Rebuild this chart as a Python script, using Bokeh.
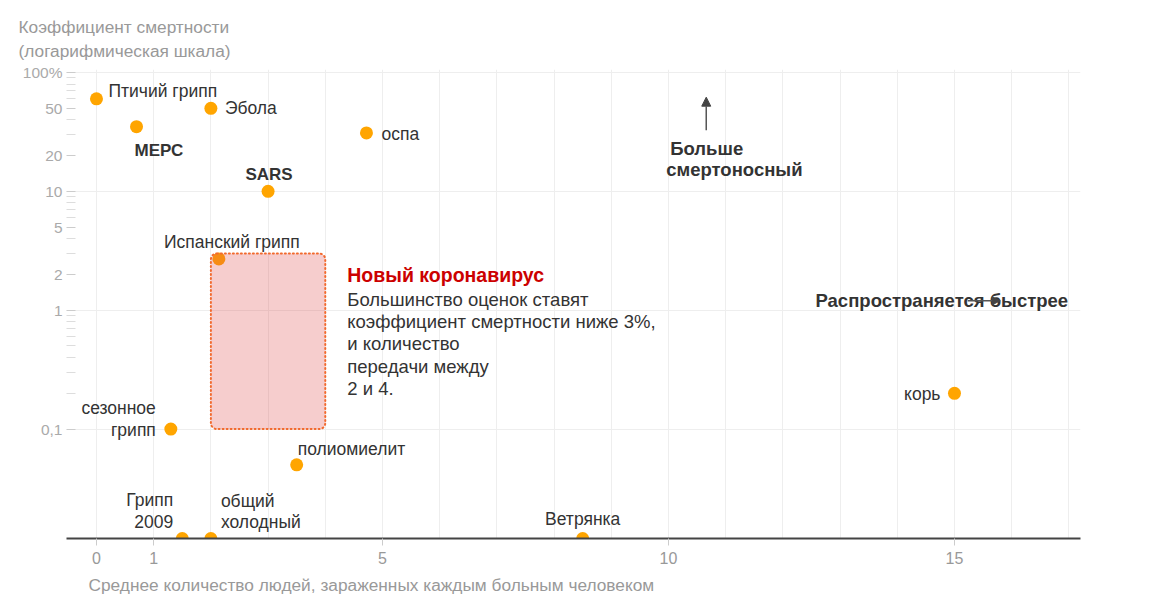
from bokeh.plotting import figure
from bokeh.models import (ColumnDataSource, FixedTicker, CustomJSTickFormatter, Label,
                          Arrow, NormalHead, Title)
from bokeh.embed import file_html
from bokeh.resources import INLINE

# ---------------- data ----------------
names = ["Птичий грипп", "МЕРС", "Эбола", "оспа", "SARS", "Испанский грипп",
         "сезонное\nгрипп", "полиомиелит", "корь", "Грипп\n2009", "общий\nхолодный", "Ветрянка"]
r0 = [0.0, 0.7, 2.0, 4.72, 3.0, 2.14, 1.3, 3.5, 15.0, 1.5, 2.0, 8.5]
AXIS_FLOOR = 0.012  # points placed on the axis (very low fatality)
fatality = [60, 35, 50, 31, 10, 2.7, 0.1, 0.05, 0.2, AXIS_FLOOR, AXIS_FLOOR, AXIS_FLOOR]

covid_r0 = [2.0, 4.0]
covid_fatality = [0.1, 3.0]

x_ticks = [0, 1, 5, 10, 15]
y_ticks = [0.1, 1, 2, 5, 10, 20, 50, 100]
y_minor = [0.2, 0.3, 0.4, 0.5, 0.6, 0.7, 0.8, 0.9, 3, 4, 6, 7, 8, 9, 30, 40, 60, 70, 80, 90]

# ---------------- styles ----------------
FONT = "Liberation Sans"
DARK = "#333333"
GRAY = "#999999"
DOT = "#ffa500"

# label style per point: (dx, dy_down, align, bold)
label_style = {
    "Птичий грипп": (12, -8, "left", False),
    "МЕРС": (-2, 24, "left", True),
    "Эбола": (14, 0, "left", False),
    "оспа": (15, 1, "left", False),
    "SARS": (1, -17, "center", True),
    "Испанский грипп": (13, -17, "center", False),
    "сезонное\nгрипп": (-15, -21, "right", False),
    "полиомиелит": (1, -16, "left", False),
    "корь": (-14, 1, "right", False),
    "Грипп\n2009": (-9, -39, "right", False),
    "общий\nхолодный": (10, -38, "left", False),
    "Ветрянка": (0, -20, "center", False),
}
LINE_H = 21.5

p = figure(width=1140, height=604, output_backend="svg", toolbar_location=None,
           y_axis_type="log", x_range=(-0.524, 17.203), y_range=(AXIS_FLOOR, 106),
           min_border_left=66, min_border_right=60, min_border_top=69, min_border_bottom=66)
p.outline_line_color = None
p.background_fill_color = "white"

# axes
xa = p.xaxis[0]
xa.ticker = FixedTicker(ticks=x_ticks, minor_ticks=[])
xa.axis_line_color = "#444444"
xa.axis_line_width = 2
xa.major_tick_line_color = "#cccccc"
xa.major_tick_in = 0
xa.major_tick_out = 7
xa.minor_tick_line_color = None
xa.major_label_text_color = GRAY
xa.major_label_text_font = FONT
xa.major_label_text_font_size = "16px"
xa.major_label_standoff = 6

ya = p.yaxis[0]
ya.ticker = FixedTicker(ticks=y_ticks, minor_ticks=y_minor)
ya.formatter = CustomJSTickFormatter(code="""
if (tick >= 99) return '100%';
if (Math.abs(tick - 0.1) < 1e-9) return '0,1';
return String(tick);
""")
ya.axis_line_color = None
ya.major_tick_line_color = "#cccccc"
ya.minor_tick_line_color = "#dddddd"
ya.major_tick_in = 9
ya.major_tick_out = 0
ya.minor_tick_in = 9
ya.minor_tick_out = 0
ya.major_label_text_color = "#aaaaaa"
ya.major_label_text_font = FONT
ya.major_label_text_font_size = "15.5px"
ya.major_label_standoff = 4

p.xgrid.ticker = FixedTicker(ticks=list(range(0, 18)))
p.xgrid.grid_line_color = "#eeeeee"
p.ygrid.ticker = FixedTicker(ticks=[0.1, 1, 10, 100])
p.ygrid.grid_line_color = "#eeeeee"

# points
src = ColumnDataSource(dict(x=r0, y=fatality, name=names))
p.scatter("x", "y", source=src, size=13, color=DOT, line_color=None)

# coronavirus box (drawn over the dots)
p.quad(left=[covid_r0[0]], right=[covid_r0[1]], bottom=[covid_fatality[0]], top=[covid_fatality[1]],
       fill_color="#e04a4a", fill_alpha=0.28, line_color="#f26a2e", line_width=2,
       line_dash="1 3", line_cap="round", border_radius=6)

# point labels
for name, x, y in zip(names, r0, fatality):
    dx, dy, align, bold = label_style[name]
    lines = name.split("\n")
    for i, line in enumerate(lines):
        p.add_layout(Label(x=x, y=y, x_offset=dx, y_offset=-(dy + i * LINE_H), text=line,
                           text_font=FONT, text_font_size="17px" if bold else "17.5px",
                           text_color=DARK,
                           text_font_style="bold" if bold else "normal",
                           text_align=align, text_baseline="middle"))

# coronavirus annotation
p.add_layout(Label(x=covid_r0[1], y=covid_fatality[1], x_offset=22, y_offset=-21,
                   text="Новый коронавирус", text_font=FONT, text_font_size="19.5px",
                   text_font_style="bold", text_color="#cc0000", text_baseline="middle"))
body = ["Большинство оценок ставят", "коэффициент смертности ниже 3%,",
        "и количество", "передачи между", "2 и 4."]
for i, line in enumerate(body):
    p.add_layout(Label(x=covid_r0[1], y=covid_fatality[1], x_offset=22, y_offset=-(46 + 22.2 * i),
                       text=line, text_font=FONT, text_font_size="18.5px", text_color=DARK,
                       text_baseline="middle"))

# direction hints
p.add_layout(Arrow(end=NormalHead(size=9, fill_color="#444444", line_color="#444444"),
                   x_start=10.66, y_start=32.6, x_end=10.66, y_end=62,
                   line_color="#555555", line_width=1.5))
p.add_layout(Label(x=10.66, y=32.6, x_offset=-36, y_offset=-18, text="Больше",
                   text_font=FONT, text_font_size="18.5px", text_font_style="bold",
                   text_color=DARK, text_baseline="middle"))
p.add_layout(Label(x=10.66, y=32.6, x_offset=-40, y_offset=-39, text="смертоносный",
                   text_font=FONT, text_font_size="18.5px", text_font_style="bold",
                   text_color=DARK, text_baseline="middle"))
p.add_layout(Label(x=12.57, y=1.2, text="Распространяется быстрее",
                   text_font=FONT, text_font_size="18.5px", text_font_style="bold",
                   text_color=DARK, text_baseline="middle"))
p.add_layout(Arrow(end=NormalHead(size=8, fill_color="#444444", line_color="#444444"),
                   x_start=15.23, y_start=1.2, x_end=15.8, y_end=1.2,
                   line_color="#555555", line_width=1.5))

# axis titles
p.add_layout(Title(text="Коэффициент смертности\n(логарифмическая шкала)", align="left",
                   offset=-48, standoff=18, text_line_height=1.2,
                   text_font=FONT, text_font_size="17.3px", text_font_style="normal",
                   text_color=GRAY), "above")
p.add_layout(Title(text="Среднее количество людей, зараженных каждым больным человеком",
                   align="left", offset=22, standoff=13,
                   text_font=FONT, text_font_size="17.3px", text_font_style="normal",
                   text_color=GRAY), "below")

open("out.html", "w").write(file_html(p, INLINE))
